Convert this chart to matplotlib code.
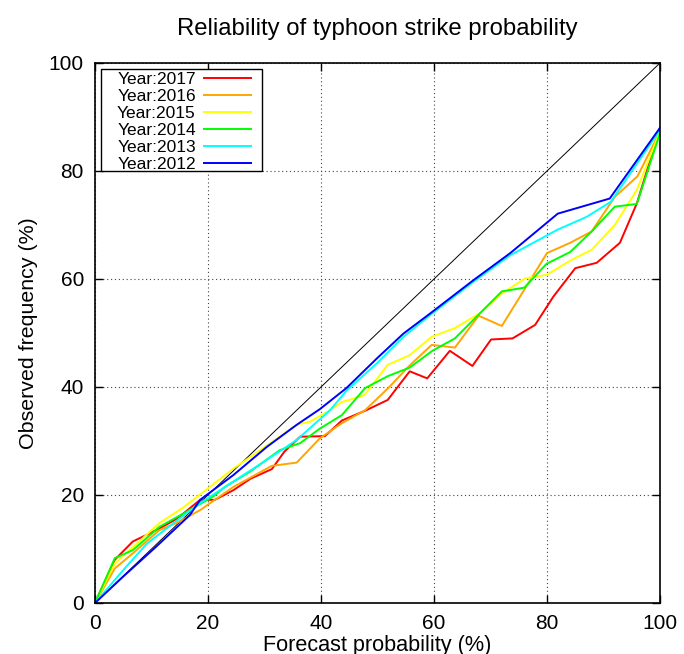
import matplotlib
matplotlib.use('Agg')
import matplotlib.pyplot as plt
from matplotlib.patches import Rectangle

# Reliability curves (forecast %, observed %)
years = ['2017', '2016', '2015', '2014', '2013', '2012']
colors = ['#ff0000', '#ffa500', '#ffff00', '#00ff00', '#00ffff', '#0000ff']

x_2017 = [0, 3.5, 6.7, 9.1, 11.4, 14.5, 18.6, 21.2, 24.5, 27.5, 31.3, 33.5, 36.3, 40.7, 43.7,
          47.8, 51.8, 55.7, 58.8, 62.8, 66.8, 70.1, 73.9, 77.9, 81.1, 85.0, 88.8, 92.9, 95.9, 100]
y_2017 = [0, 8.0, 11.4, 12.6, 13.8, 15.6, 19.1, 19.1, 20.9, 23.0, 24.8, 28.0, 30.8, 30.9, 33.8,
          35.6, 37.6, 42.9, 41.6, 46.7, 43.9, 48.8, 49.0, 51.5, 56.7, 62.0, 63.0, 66.7, 74.0, 87.9]

x_2016 = [0, 3.5, 6.7, 11.4, 14.4, 18.6, 24.5, 31.3, 35.7, 39.8, 43.7, 47.8, 51.9, 55.7,
          59.6, 63.7, 67.9, 72.0, 80.0, 84.1, 87.9, 92.0, 96.0, 100]
y_2016 = [0, 6.4, 9.2, 13.5, 14.8, 17.2, 21.5, 25.4, 26.0, 30.5, 33.3, 35.7, 39.8, 44.0,
          47.8, 47.3, 53.2, 51.3, 64.8, 66.7, 68.8, 75.2, 79.0, 87.3]

x_2015 = [0, 3.5, 7.4, 11.4, 15.5, 19.1, 24.5, 28.0, 32.0, 35.7, 38.1, 41.6, 43.7, 47.7,
          51.8, 55.7, 59.6, 63.7, 68.0, 72.0, 76.1, 80.0, 84.1, 87.9, 92.0, 95.9, 100]
y_2015 = [0, 7.3, 11.0, 14.8, 17.6, 20.5, 24.9, 27.4, 30.3, 33.0, 33.6, 35.7, 37.2, 38.5,
          44.1, 45.9, 49.3, 50.9, 53.6, 57.3, 60.1, 60.8, 63.4, 65.4, 70.0, 76.5, 87.3]

x_2014 = [0, 3.5, 6.7, 11.4, 16.2, 20.9, 23.0, 27.4, 32.7, 36.3, 39.8, 43.7, 47.8, 51.8,
          55.7, 59.7, 63.7, 67.8, 72.0, 76.0, 79.9, 84.1, 87.9, 92.0, 95.9, 100]
y_2014 = [0, 8.3, 9.8, 14.1, 16.9, 19.7, 21.5, 24.3, 28.3, 29.6, 32.3, 34.8, 39.8, 42.0,
          43.6, 46.7, 49.0, 53.3, 57.7, 58.4, 62.8, 65.0, 68.8, 73.4, 73.9, 87.0]

x_2013 = [0, 5.5, 9.2, 13.9, 18.6, 24.5, 30.4, 35.7, 41.6, 44.5, 49.9, 54.6, 59.3, 67.0,
          73.5, 78.8, 81.8, 87.0, 91.3, 100]
y_2013 = [0, 6.7, 11.0, 14.8, 18.5, 22.5, 26.5, 30.2, 35.7, 39.3, 44.4, 49.3, 53.3, 59.5,
          64.4, 67.4, 69.1, 71.5, 74.3, 87.6]

x_2012 = [0, 5.0, 10.9, 16.8, 18.6, 24.5, 30.4, 35.7, 39.8, 44.5, 49.9, 54.6, 59.3, 67.0,
          73.5, 78.8, 81.9, 91.1, 100]
y_2012 = [0, 4.9, 10.5, 16.3, 19.1, 23.7, 28.9, 33.0, 35.9, 39.8, 45.3, 49.9, 53.6, 59.8,
          64.8, 69.4, 72.1, 74.9, 88.0]

xs = [x_2017, x_2016, x_2015, x_2014, x_2013, x_2012]
ys = [y_2017, y_2016, y_2015, y_2014, y_2013, y_2012]

ticks = [0, 20, 40, 60, 80, 100]

plt.rcParams['font.family'] = ['Liberation Sans', 'DejaVu Sans']

fig = plt.figure(figsize=(6.84, 6.54), dpi=100)
ax = fig.add_axes([95 / 684, 1 - 603 / 654, 565 / 684, 540 / 654])

# perfect reliability diagonal
ax.plot([0, 100], [0, 100], color='black', linewidth=0.7)

for year, color, x, y in zip(years, colors, xs, ys):
    ax.plot(x, y, color=color, linewidth=1.4, label=f"Year:{year}")

ax.set(xlim=(0, 100), ylim=(0, 100), xticks=ticks, yticks=ticks)
ax.grid(True, color='#444444', linestyle=(0, (1, 2.5)), linewidth=0.8)
ax.tick_params(direction='in', length=6, width=1, top=True, right=True,
               labelsize=15, pad=8)
for spine in ax.spines.values():
    spine.set_linewidth(1.2)

ax.set_title('Reliability of typhoon strike probability', fontsize=17.2, pad=20)
ax.set_xlabel('Forecast probability (%)', fontsize=15.6, labelpad=1)
ax.set_ylabel('Observed frequency (%)', fontsize=15.4, labelpad=8)

# gnuplot style key: text then sample, square box around it
leg = ax.legend(loc='upper left', bbox_to_anchor=(0.039, 0.983), borderaxespad=0,
                markerfirst=False, fontsize=12.5, handlelength=2.7, handletextpad=0.46,
                labelspacing=0.1, borderpad=0, frameon=False)
ax.add_patch(Rectangle((0.0106, 0.80), 0.285, 0.1889, transform=ax.transAxes,
                       fill=True, facecolor='white', edgecolor='black',
                       linewidth=1.0, zorder=4))
leg.set_zorder(5)

fig.savefig('out.png', dpi=100)
